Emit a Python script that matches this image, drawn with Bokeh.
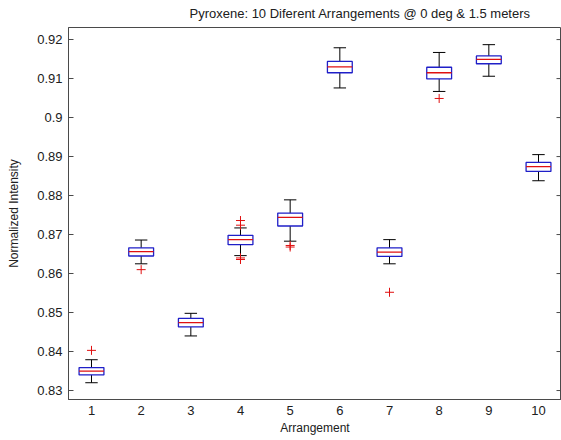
from bokeh.plotting import figure
from bokeh.models import FixedTicker, Range1d
from bokeh.embed import file_html
from bokeh.resources import INLINE

arrangements = [1, 2, 3, 4, 5, 6, 7, 8, 9, 10]
whisker_lo = [0.8320, 0.8625, 0.8440, 0.8646, 0.8683, 0.9076, 0.8625, 0.9067, 0.9106, 0.8838]
q1 = [0.8340, 0.8645, 0.8463, 0.8674, 0.8722, 0.9115, 0.8644, 0.9099, 0.9138, 0.8862]
median = [0.8350, 0.8656, 0.8474, 0.8687, 0.8744, 0.9130, 0.8655, 0.9115, 0.9149, 0.8874]
q3 = [0.8359, 0.8666, 0.8485, 0.8698, 0.8755, 0.9144, 0.8666, 0.9129, 0.9158, 0.8885]
whisker_hi = [0.8379, 0.8686, 0.8498, 0.8717, 0.8789, 0.9179, 0.8687, 0.9167, 0.9187, 0.8905]
outlier_x = [1, 2, 4, 4, 4, 4, 5, 5, 7, 8]
outlier_y = [0.8403, 0.8610, 0.8736, 0.8724, 0.8640, 0.8636, 0.8672, 0.8668, 0.8552, 0.9049]
y_ticks = [0.83, 0.84, 0.85, 0.86, 0.87, 0.88, 0.89, 0.90, 0.91, 0.92]
y_tick_labels = {0.83: "0.83", 0.84: "0.84", 0.85: "0.85", 0.86: "0.86", 0.87: "0.87",
                 0.88: "0.88", 0.89: "0.89", 0.90: "0.9", 0.91: "0.91", 0.92: "0.92"}

FONT = "Liberation Sans"
AX = "#4a4a4a"
BLUE = "#1f1fc8"
RED = "#e01010"

X0, X1 = 0.537, 10.463
p = figure(width=561, height=440, output_backend="svg", toolbar_location=None,
           x_range=Range1d(X0, X1), y_range=Range1d(0.8277, 0.9231),
           min_border_left=68, min_border_right=0, min_border_top=27, min_border_bottom=41,
           title="Pyroxene: 10 Diferent Arrangements @ 0 deg & 1.5 meters")
p.background_fill_color = "white"
p.border_fill_color = "white"
p.outline_line_color = AX
p.grid.visible = False

p.title.text_font = FONT
p.title.text_font_size = "13px"
p.title.text_font_style = "normal"
p.title.text_color = "#202020"
p.title.align = "left"
p.title.offset = 121
p.title.vertical_align = "top"
p.title.standoff = 10

xa = p.xaxis[0]
xa.ticker = FixedTicker(ticks=arrangements)
xa.major_tick_in = 0
xa.major_tick_out = 0
xa.minor_tick_line_color = None
xa.axis_line_color = AX
xa.major_label_text_font = FONT
xa.major_label_text_font_size = "13px"
xa.major_label_text_color = "#202020"
xa.major_label_standoff = 6
xa.axis_label = "Arrangement"
xa.axis_label_text_font = FONT
xa.axis_label_text_font_size = "12px"
xa.axis_label_text_font_style = "normal"
xa.axis_label_text_color = "#202020"
xa.axis_label_standoff = 3

ya = p.yaxis[0]
ya.ticker = FixedTicker(ticks=y_ticks)
ya.major_label_overrides = y_tick_labels
ya.major_tick_in = 5
ya.major_tick_out = 0
ya.major_tick_line_color = AX
ya.minor_tick_line_color = None
ya.axis_line_color = AX
ya.major_label_text_font = FONT
ya.major_label_text_font_size = "13px"
ya.major_label_text_color = "#202020"
ya.major_label_standoff = 6
ya.axis_label = "Normalized Intensity"
ya.axis_label_text_font = FONT
ya.axis_label_text_font_size = "12px"
ya.axis_label_text_font_style = "normal"
ya.axis_label_text_color = "#202020"
ya.axis_label_standoff = 13

# right-side inward tick marks (mirrored y ticks)
tick_len = 5 * (X1 - X0) / 493
p.segment(x0=[X1] * len(y_ticks), y0=y_ticks, x1=[X1 - tick_len] * len(y_ticks), y1=y_ticks,
          line_color=AX, line_width=1)

xl = [x - 0.25 for x in arrangements]
xr = [x + 0.25 for x in arrangements]
cl = [x - 0.125 for x in arrangements]
cr = [x + 0.125 for x in arrangements]

# whiskers
p.segment(x0=arrangements, y0=q3, x1=arrangements, y1=whisker_hi, line_color="black", line_width=1)
p.segment(x0=arrangements, y0=q1, x1=arrangements, y1=whisker_lo, line_color="black", line_width=1)
p.segment(x0=cl, y0=whisker_hi, x1=cr, y1=whisker_hi, line_color="black", line_width=1)
p.segment(x0=cl, y0=whisker_lo, x1=cr, y1=whisker_lo, line_color="black", line_width=1)
# boxes
p.quad(left=xl, right=xr, bottom=q1, top=q3, fill_color=None, line_color=BLUE, line_width=1.3)
# medians
p.segment(x0=xl, y0=median, x1=xr, y1=median, line_color=RED, line_width=1.3)
# outliers
p.scatter(x=outlier_x, y=outlier_y, marker="cross", size=9, line_color=RED, line_width=1)

open("out.html", "w").write(file_html(p, INLINE))
